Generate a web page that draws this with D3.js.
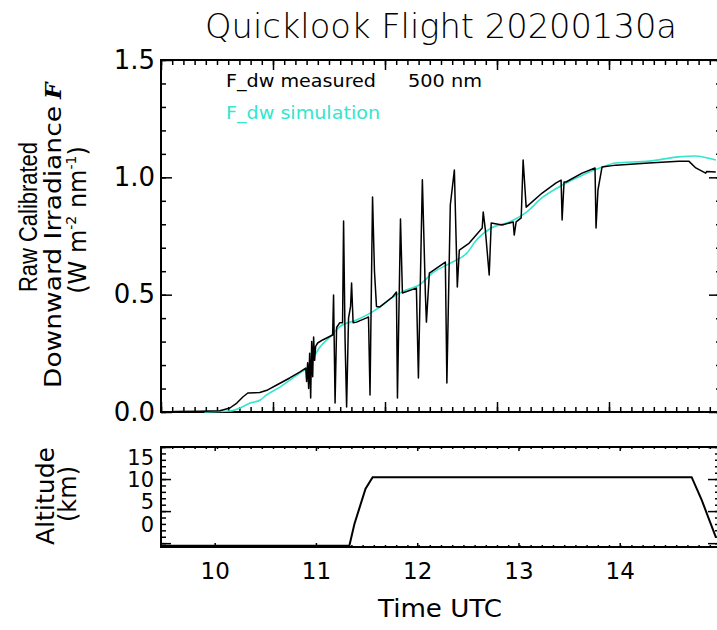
<!DOCTYPE html>
<html>
<head>
<meta charset="utf-8">
<style>
  body { margin: 0; background: white; }
  svg { font-family: 'DejaVu Sans', sans-serif; }
  .frame { fill: none; stroke: black; stroke-width: 2; }
  .axis path { display: none; }
  .axis line { stroke: black; stroke-width: 1.5; }
  .axis text { fill: black; font-family: 'DejaVu Sans', sans-serif; }
</style>
</head>
<body>
<script src="https://cdn.jsdelivr.net/npm/d3@7"></script>
<div id="chart"></div>
<script>
// F_dw measured at 500 nm (time UTC in hours, W m-2 nm-1)
var measTime = [9.600, 9.854, 10.051, 10.150, 10.219, 10.278, 10.327, 10.445, 10.524, 10.613, 10.741,
  10.839, 10.899, 10.908, 10.918, 10.928, 10.938, 10.948, 10.958, 10.968, 10.977, 10.987, 10.997,
  11.017, 11.066, 11.165, 11.174, 11.189, 11.204, 11.234, 11.263, 11.273, 11.288, 11.303, 11.322,
  11.342, 11.352, 11.367, 11.401, 11.500, 11.519, 11.534, 11.559, 11.578, 11.598, 11.628, 11.756,
  11.795, 11.805, 11.835, 11.854, 11.992, 12.012, 12.051, 12.081, 12.091, 12.120, 12.278, 12.293,
  12.327, 12.367, 12.396, 12.416, 12.514, 12.642, 12.652, 12.672, 12.711, 12.731, 12.839, 12.948,
  12.958, 12.977, 13.027, 13.046, 13.076, 13.234, 13.372, 13.421, 13.431, 13.450, 13.470, 13.628,
  13.756, 13.766, 13.785, 13.825, 13.963, 14.288, 14.583, 14.682, 14.751, 14.849, 14.859, 14.948];
var measVal = [0.002, 0.003, 0.005, 0.017, 0.038, 0.064, 0.081, 0.083, 0.094, 0.115, 0.145,
  0.170, 0.187, 0.130, 0.210, 0.100, 0.250, 0.060, 0.300, 0.150, 0.320, 0.220, 0.280,
  0.294, 0.307, 0.328, 0.499, 0.038, 0.360, 0.380, 0.380, 0.814, 0.300, 0.021, 0.400,
  0.450, 0.550, 0.380, 0.383, 0.401, 0.405, 0.072, 0.916, 0.600, 0.450, 0.447, 0.490,
  0.511, 0.060, 0.822, 0.507, 0.528, 0.145, 0.990, 0.500, 0.383, 0.592, 0.639, 0.124,
  0.882, 1.031, 0.533, 0.690, 0.720, 0.784, 0.852, 0.780, 0.584, 0.805, 0.797, 0.810,
  0.754, 0.810, 0.827, 1.074, 0.873, 0.933, 0.976, 0.988, 0.818, 0.980, 0.980, 1.018,
  1.040, 0.784, 0.946, 1.044, 1.052, 1.061, 1.069, 1.069, 1.040, 1.018, 1.025, 1.023];

// F_dw simulation
var simTime = [9.90, 10.15, 10.25, 10.35, 10.45, 10.51, 10.64, 10.84, 10.91, 10.99, 11.04, 11.14, 11.23,
  11.40, 11.50, 11.63, 11.76, 11.89, 12.02, 12.15, 12.35, 12.49, 12.58, 12.73, 12.91, 13.08, 13.23,
  13.40, 13.57, 13.70, 13.83, 13.96, 14.29, 14.58, 14.75, 14.91, 14.95];
var simVal = [0.000, 0.004, 0.017, 0.038, 0.051, 0.072, 0.105, 0.166, 0.187, 0.243, 0.277, 0.320, 0.362,
  0.392, 0.413, 0.447, 0.490, 0.520, 0.541, 0.592, 0.639, 0.677, 0.730, 0.784, 0.810, 0.852, 0.912,
  0.959, 0.997, 1.023, 1.044, 1.061, 1.069, 1.087, 1.091, 1.078, 1.074];

// Aircraft altitude (km)
var altTime = [9.47, 11.33, 11.38, 11.43, 11.49, 11.56, 14.71, 14.76, 14.81, 14.88, 14.95];
var altKm = [-0.4, -0.4, 3.0, 5.5, 8.5, 10.3, 10.3, 8.5, 6.7, 3.8, 0.9];

var irrTicks = [0, 0.5, 1.0, 1.5];
var altTicks = [0, 5, 10, 15];
var hourTicks = [10, 11, 12, 13, 14];

var W = 717, H = 630;
var svg = d3.select("#chart").append("svg")
  .attr("width", W).attr("height", H);

var x = d3.scaleLinear().domain([9.47, 15.0]).range([161, 721]);
var y = d3.scaleLinear().domain([0, 1.5]).range([412, 60]);
var yAlt = d3.scaleLinear().domain([-0.6, 15]).range([547, 447]);
// altitude tick labels sit where IDL squeezed them
var yAltLab = d3.scaleLinear().domain([0, 15]).range([524, 457]);

// x ticks of the upper panel: 5 equal intervals with 10 minor each
var x0 = x.domain()[0], xStep = (x.domain()[1] - x.domain()[0]) / 5;
var xMajor = d3.range(6).map(function(i) { return x0 + i * xStep; });
var xMinor = d3.range(51).map(function(i) { return x0 + i * xStep / 10; });

function ticks(g, axis) { g.attr("class", "axis").call(axis); }

// ---------- upper panel ----------
var upper = svg.append("g");
upper.append("g").attr("transform", "translate(0,412)")
  .call(ticks, d3.axisBottom(x).tickValues(xMajor).tickSize(-10).tickFormat(""));
upper.append("g").attr("transform", "translate(0,412)")
  .call(ticks, d3.axisBottom(x).tickValues(xMinor).tickSize(-5).tickFormat(""));
upper.append("g").attr("transform", "translate(0,60)")
  .call(ticks, d3.axisTop(x).tickValues(xMajor).tickSize(-10).tickFormat(""));
upper.append("g").attr("transform", "translate(0,60)")
  .call(ticks, d3.axisTop(x).tickValues(xMinor).tickSize(-5).tickFormat(""));

upper.append("g").attr("transform", "translate(161,0)")
  .call(ticks, d3.axisLeft(y).tickValues(irrTicks).tickSize(-11).tickPadding(6)
    .tickFormat(d3.format(".1f")))
  .selectAll("text").style("font-size", "26px");
upper.append("g").attr("transform", "translate(161,0)")
  .call(ticks, d3.axisLeft(y).tickValues(d3.range(0, 1.51, 0.1)).tickSize(-5).tickFormat(""));
upper.append("g").attr("transform", "translate(720,0)")
  .call(ticks, d3.axisRight(y).tickValues(irrTicks).tickSize(-11).tickFormat(""));
upper.append("g").attr("transform", "translate(720,0)")
  .call(ticks, d3.axisRight(y).tickValues(d3.range(0, 1.51, 0.1)).tickSize(-4).tickFormat(""));

upper.append("rect").attr("class", "frame")
  .attr("x", 161).attr("y", 60).attr("width", 560).attr("height", 352);

var line = d3.line()
  .x(function(d) { return x(d[0]); })
  .y(function(d) { return y(d[1]); });

upper.append("path")
  .datum(simTime.map(function(t, i) { return [t, simVal[i]]; }))
  .attr("fill", "none").attr("stroke", "#33e6cc").attr("stroke-width", 1.6)
  .attr("d", line.curve(d3.curveMonotoneX));

upper.append("path")
  .datum(measTime.map(function(t, i) { return [t, measVal[i]]; }))
  .attr("fill", "none").attr("stroke", "black").attr("stroke-width", 1.5)
  .attr("stroke-linejoin", "round")
  .attr("d", line.curve(d3.curveLinear));

// legend
upper.append("text").attr("x", 226).attr("y", 87).style("font-size", "18px")
  .attr("textLength", 150).attr("lengthAdjust", "spacingAndGlyphs").text("F_dw measured");
upper.append("text").attr("x", 408).attr("y", 87).style("font-size", "18px")
  .attr("textLength", 74).attr("lengthAdjust", "spacingAndGlyphs").text("500 nm");
upper.append("text").attr("x", 226).attr("y", 119).style("font-size", "18px")
  .attr("textLength", 154).attr("lengthAdjust", "spacingAndGlyphs")
  .attr("fill", "#33e6cc").text("F_dw simulation");

// y title (rotated, so x runs up the page)
svg.append("text").attr("transform", "rotate(-90)").style("font-size", "25px")
  .style("font-family", "'Liberation Sans', Arial, sans-serif")
  .attr("x", -292).attr("y", 37).attr("textLength", 150).attr("lengthAdjust", "spacingAndGlyphs")
  .text("Raw Calibrated");
svg.append("text").attr("transform", "rotate(-90)").style("font-size", "23px")
  .attr("x", -388).attr("y", 61).attr("textLength", 282).attr("lengthAdjust", "spacingAndGlyphs")
  .text("Downward Irradiance");
svg.append("text").attr("transform", "rotate(-90)").style("font-size", "23px")
  .attr("x", -99).attr("y", 61)
  .style("font-family", "'DejaVu Serif', serif").style("font-style", "italic")
  .style("font-weight", "bold").text("F");
var l3 = svg.append("text").attr("transform", "rotate(-90)").style("font-size", "24px")
  .attr("text-anchor", "middle").attr("x", -220).attr("y", 86);
l3.append("tspan").text("(W m");
l3.append("tspan").attr("dy", -10).style("font-size", "14px").text("-2");
l3.append("tspan").attr("dy", 10).text(" nm");
l3.append("tspan").attr("dy", -10).style("font-size", "14px").text("-1");
l3.append("tspan").attr("dy", 10).text(")");

// title
svg.append("text").attr("x", 205).attr("y", 38).style("font-size", "33px")
  .style("font-weight", 300).attr("textLength", 472).attr("lengthAdjust", "spacingAndGlyphs")
  .text("Quicklook Flight 20200130a");

// ---------- lower panel ----------
var lower = svg.append("g");
lower.append("g").attr("transform", "translate(0,547)")
  .call(ticks, d3.axisBottom(x).tickValues(hourTicks).tickSize(-4).tickPadding(16)
    .tickFormat(d3.format("d")))
  .selectAll("text").style("font-size", "23px");
lower.append("g").attr("transform", "translate(0,547)")
  .call(ticks, d3.axisBottom(x).tickValues(xMinor).tickSize(-2).tickFormat(""));
lower.append("g").attr("transform", "translate(0,447)")
  .call(ticks, d3.axisTop(x).tickValues(hourTicks).tickSize(-4).tickFormat(""));
lower.append("g").attr("transform", "translate(0,447)")
  .call(ticks, d3.axisTop(x).tickValues(xMinor).tickSize(-2).tickFormat(""));

lower.append("g").attr("transform", "translate(161,0)")
  .call(ticks, d3.axisLeft(yAlt).tickValues(altTicks).tickSize(-10).tickFormat(""));
lower.append("g").attr("transform", "translate(161,0)")
  .call(ticks, d3.axisLeft(yAlt).tickValues(d3.range(0, 16, 1)).tickSize(-5).tickFormat(""));
lower.append("g").attr("transform", "translate(718,0)")
  .call(ticks, d3.axisRight(yAlt).tickValues(altTicks).tickSize(-10).tickFormat(""));
lower.append("g").attr("transform", "translate(718,0)")
  .call(ticks, d3.axisRight(yAlt).tickValues(d3.range(0, 16, 1)).tickSize(-3).tickFormat(""));

lower.selectAll("text.altlab").data(altTicks).enter().append("text")
  .attr("class", "altlab")
  .attr("x", 154).attr("y", function(d) { return yAltLab(d); })
  .attr("dy", "0.36em").attr("text-anchor", "end").style("font-size", "21px")
  .text(function(d) { return d; });

lower.append("rect").attr("class", "frame")
  .attr("x", 161).attr("y", 447).attr("width", 560).attr("height", 100);

lower.append("path")
  .datum(altTime.map(function(t, i) { return [t, altKm[i]]; }))
  .attr("fill", "none").attr("stroke", "black").attr("stroke-width", 2)
  .attr("d", d3.line()
    .x(function(d) { return x(d[0]); })
    .y(function(d) { return yAlt(d[1]); }));

svg.append("text").attr("transform", "rotate(-90)").style("font-size", "24px")
  .attr("text-anchor", "middle").attr("x", -496).attr("y", 54)
  .attr("textLength", 98).attr("lengthAdjust", "spacingAndGlyphs").text("Altitude");
svg.append("text").attr("transform", "rotate(-90)").style("font-size", "24px")
  .attr("text-anchor", "middle").attr("x", -494).attr("y", 76).text("(km)");

svg.append("text").attr("x", 440).attr("y", 617).attr("text-anchor", "middle")
  .style("font-size", "25px").attr("textLength", 124).attr("lengthAdjust", "spacingAndGlyphs")
  .text("Time UTC");
</script>
</body>
</html>
